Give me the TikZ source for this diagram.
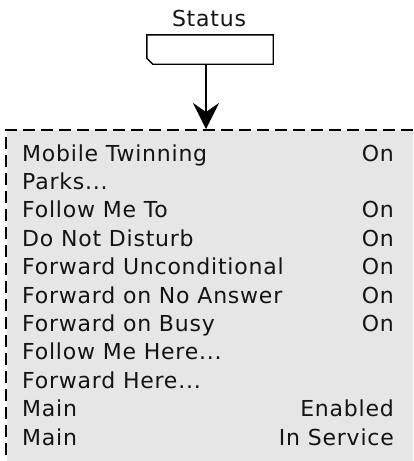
\documentclass[tikz,border=0pt]{standalone}
\usepackage{fontspec}
\setmainfont{DejaVu Sans}
\newfontfamily\menufont[LetterSpace=3.5]{DejaVu Sans}
\usetikzlibrary{arrows.meta}
\definecolor{MenuGray}{RGB}{230,230,230}
\definecolor{MenuText}{RGB}{20,20,20}
\tikzset{
	>={Stealth[length=26pt, width=26pt, inset=9pt]},
	statusbox/.style={minimum width=126pt, minimum height=29pt, inner sep=0pt},
	boxline/.style={black, line width=1.4pt, fill=white},
	item/.style={font=\menufont\fontsize{22}{24}\selectfont, text=MenuText,
		inner sep=0pt, anchor=base west},
	value/.style={font=\menufont\fontsize{22}{24}\selectfont, text=MenuText,
		inner sep=0pt, anchor=base east},
	menuedge/.style={black, line width=1.5pt, dash pattern=on 12pt off 6pt},
}

\begin{document}
\begin{tikzpicture}[x=1pt, y=-1pt]
		
		\useasboundingbox (0,0) rectangle (413,461);
		
		% Menu background (runs off the right and bottom)
		\fill[MenuGray] (7,130) rectangle (413,461);
		\draw[menuedge] (413,130) -- (6,130) -- (6,461);
		
		% Status softkey, chamfered at the lower left
		\node[item, anchor=base] (status) at (209,26) {Status};
		\node[statusbox] (statusbtn) at (210,49.5) {};
		\draw[boxline] (statusbtn.north west) -- (statusbtn.north east)
		-- (statusbtn.south east) -- ([xshift=6pt]statusbtn.south west)
		-- ([yshift=6pt]statusbtn.south west) -- cycle;
		
		\coordinate (btnout) at ([xshift=-4pt]statusbtn.south);
		\coordinate (menutop) at (206,129);
		\draw[->, line width=1.4pt] (btnout) -- (menutop);
		
		\def\py{28.4}
		
		% Menu entries
		\node[item] (twin)   at (22,161) {Mobile Twinning};
		\node[item] (parks)  at (22,161+\py) {Parks...};
		\node[item] (follow) at (22,161+2*\py) {Follow Me To};
		\node[item] (dnd)    at (22,161+3*\py) {Do Not Disturb};
		\node[item] (fwdu)   at (22,161+4*\py) {Forward Unconditional};
		\node[item] (fwdna)  at (22,161+5*\py) {Forward on No Answer};
		\node[item] (fwdb)   at (22,161+6*\py) {Forward on Busy};
		\node[item] (fmhere) at (22,161+7*\py) {Follow Me Here...};
		\node[item] (fwhere) at (22,161+8*\py) {Forward Here...};
		\node[item] (mainA)  at (22,161+9*\py) {Main};
		\node[item] (mainB)  at (22,161+10*\py) {Main};
		
		% Values, right aligned
		\node[value] (twinv)   at (394,161) {On};
		\node[value] (followv) at (394,161+2*\py) {On};
		\node[value] (dndv)    at (394,161+3*\py) {On};
		\node[value] (fwduv)   at (394,161+4*\py) {On};
		\node[value] (fwdnav)  at (394,161+5*\py) {On};
		\node[value] (fwdbv)   at (394,161+6*\py) {On};
		\node[value] (mainAv)  at (394,161+9*\py) {Enabled};
		\node[value] (mainBv)  at (394,161+10*\py) {In Service};
		
	\end{tikzpicture}
\end{document}
